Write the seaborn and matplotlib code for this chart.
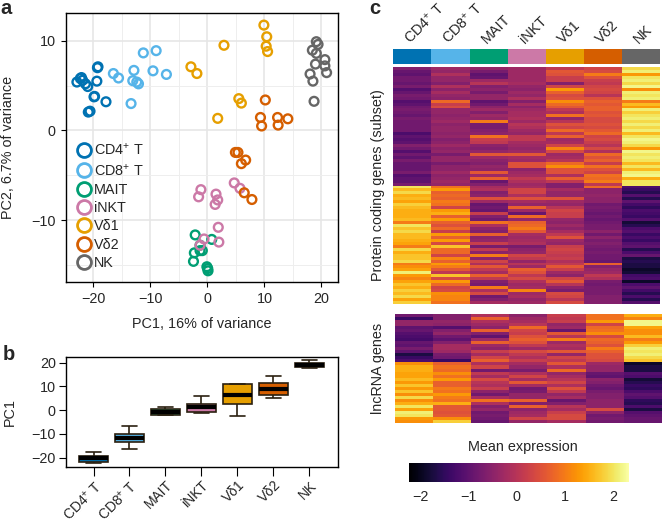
import numpy as np
import pandas as pd
import matplotlib
matplotlib.use("Agg")
import matplotlib.pyplot as plt
from matplotlib.colors import ListedColormap
from matplotlib.lines import Line2D
from matplotlib.ticker import MultipleLocator
import seaborn as sns

sns.set_theme(style="white")
plt.rcParams["font.family"] = ["Liberation Sans", "DejaVu Sans"]
plt.rcParams["mathtext.default"] = "regular"

W, H = 662, 525
groups = ["CD4$^{+}$ T", "CD8$^{+}$ T", "MAIT", "iNKT", "Vδ1", "Vδ2", "NK"]
colors = ["#0072B2", "#56B4E9", "#009E73", "#CC79A7", "#E69F00", "#D55E00", "#666666"]

# panel a
pc_x = {
    0: [-22.9, -22.1, -22.3, -21.4, -21.0, -19.4, -19.3, -19.2, -19.9, -19.8, -17.8, -20.9, -20.6, -21.9],
    1: [-16.5, -15.6, -12.9, -13.1, -12.4, -12.1, -13.4, -11.25, -9.0, -9.55, -7.2],
    2: [-2.15, 0.75, -2.3, -1.3, -0.9, -2.45, -0.1, 0.05, 0.1, -1.3],
    3: [-1.15, -1.55, 1.5, 1.8, 1.35, 1.9, 2.0, -0.6, -1.3, 4.7, 5.7],
    4: [9.9, 10.4, 10.3, 10.55, 2.9, -2.9, -1.85, 5.5, 5.95, 1.8],
    5: [10.15, 9.3, 9.5, 12.3, 12.4, 14.1, 4.9, 5.35, 5.95, 6.7, 6.45, 7.8],
    6: [19.1, 19.4, 18.4, 19.1, 20.6, 20.6, 20.9, 18.95, 18.0, 18.5, 18.7],
}
pc_y = {
    0: [5.4, 5.9, 5.8, 5.2, 4.9, 5.5, 7.0, 7.1, 3.75, 3.8, 3.2, 2.05, 2.15, 5.6],
    1: [6.35, 5.85, 6.7, 5.55, 5.4, 5.2, 3.0, 8.65, 8.9, 6.65, 6.25],
    2: [-11.65, -12.15, -13.65, -13.4, -13.4, -14.6, -15.2, -15.4, -15.65, -12.8],
    3: [-6.6, -7.4, -7.1, -7.75, -8.25, -10.8, -12.45, -12.1, -12.8, -5.85, -6.45],
    4: [11.75, 10.45, 9.4, 8.8, 9.5, 7.1, 6.35, 3.55, 3.05, 1.35],
    5: [3.4, 1.45, 0.5, 1.45, 0.6, 1.3, -2.45, -2.45, -3.7, -3.3, -6.95, -7.7],
    6: [9.9, 9.6, 8.95, 8.6, 7.9, 7.2, 6.45, 7.4, 6.3, 5.5, 3.25],
}

# panel b: whisker low, q1, median, q3, whisker high
box_stats = [
    [-22.5, -21.7, -20.4, -19.3, -17.5],
    [-16.3, -13.5, -11.7, -10.1, -6.9],
    [-2.2, -2.1, -0.9, 0.3, 1.3],
    [-1.1, -0.8, 1.4, 2.7, 6.0],
    [-2.5, 2.5, 6.2, 10.8, 11.0],
    [5.0, 6.2, 8.9, 11.4, 14.3],
    [17.9, 18.0, 19.0, 20.0, 21.0],
]

# panel c
protein_up = [
    [-.6,-.3,-.4,-.3,.1,.3,1.9], [-.9,-.4,-.7,-.3,.6,.4,2.1], [-1.0,-.1,-1.0,-.3,.5,1.0,1.3],
    [-.8,-.4,-.9,-.3,.2,.5,2.0], [-.8,-.4,-.3,-.3,.2,.2,2.1], [-.9,-.6,.0,-.2,-.6,.1,1.9],
    [-.7,-.1,-.6,-.4,.3,.3,2.2], [-1.1,-.5,-.5,-.5,1.3,.4,1.2], [-.9,-.2,-.7,-.3,.7,.3,2.1],
    [-.7,-.4,-.4,-.4,.4,.0,2.0], [-.8,-.5,-.4,-.1,.5,.5,2.1], [-1.1,.8,-1.0,-.6,1.2,.7,1.0],
    [-1.0,.2,-.8,-.2,.8,.6,1.6], [-.8,.4,-.5,-.5,.6,.7,1.3], [-.7,-.4,-.3,-.3,.1,.7,2.1],
    [-.8,-.4,-.6,-.2,-.1,.5,1.8], [-.9,-.5,-.3,-.2,.9,.6,2.0], [-.7,-.4,-.4,-.1,-.4,.4,2.1],
    [-.8,-.3,1.0,-.3,.0,.4,1.9], [-.8,-.5,-.7,.0,.5,.5,2.1], [-.8,-.4,-.7,-.1,.3,.4,1.9],
    [-.8,-.4,-.6,-.3,.8,.6,2.1], [-1.2,-.5,-.5,-.4,.1,.8,1.6], [-1.0,-.4,.9,.1,.7,.3,2.0],
    [-1.1,-.6,.2,.1,-.3,.4,2.2], [-1.0,-.5,.1,-.2,-.2,.2,2.1], [-.6,-.3,-.5,-.3,.3,.0,1.9],
    [-.8,-.5,-.6,-.4,1.1,.4,1.3], [-1.1,-.4,-.4,-.3,.4,-.1,2.2], [-.8,-.7,.6,.6,-.3,.8,2.0],
    [-1.0,-.4,-.3,-.2,-.2,.5,2.1], [-.7,-.4,-.5,-.3,.0,.7,2.0], [-.9,-.7,-.6,.5,.8,.2,1.6],
    [-.9,-.5,-.4,.5,1.2,.9,2.0], [-.9,-.5,-.5,-.5,.5,.5,1.6], [-.7,-.3,.6,-.3,.5,.3,2.1],
    [-1.1,-.5,-.3,-.2,-.1,.9,2.2], [-1.0,-.4,.7,.1,.7,.8,1.5], [-1.0,-.3,-.9,-.1,.1,1.0,2.0],
    [-.7,-.4,-.6,-.3,-.6,.1,2.0],
]
protein_down = [
    [2.0,.9,-.2,-.2,-.6,.8,-1.2], [1.6,1.3,-.1,.3,-.2,-.5,-1.4], [1.9,.7,-.6,.3,-.4,-.5,-1.6],
    [1.5,.8,-.5,-.1,-.4,-.4,-1.1], [1.6,.7,.5,.5,.5,-.5,-1.6], [1.4,1.0,-.3,-.2,-.3,-.5,-1.0],
    [1.8,.9,-.9,-.4,-.4,-.8,-1.3], [1.6,.3,-.8,.7,.0,-.7,-1.5], [1.5,1.3,-.9,-.3,.3,-.8,-1.2],
    [1.5,1.5,.2,-.9,.2,-.9,-1.3], [1.5,.7,-.6,.8,.2,-.8,-1.4], [1.6,1.3,-.8,-.4,-.4,-.9,-1.1],
    [1.0,.7,.9,.7,-.5,-.8,-1.8], [2.0,.5,-.1,.8,-.3,-.7,-1.6], [1.7,.8,-.5,1.0,-.5,-.7,-1.2],
    [1.9,.2,-.6,.6,-.2,-.5,-1.1], [1.6,1.3,.7,-.2,.1,-.8,-1.4], [1.6,.7,-.5,-.3,.5,-.5,-1.2],
    [1.5,1.3,-.4,-.2,-.3,-.7,-1.4], [1.4,.4,.2,-.1,-.4,-.6,-1.1], [1.0,1.7,-.7,-.7,.2,-.7,-1.0],
    [1.9,.8,.1,-.5,.3,-.8,-1.6], [1.5,.8,-.5,-.4,.2,-.7,-1.2], [1.7,.3,1.0,.3,.1,-.8,-.9],
    [1.7,1.1,-.5,.1,.2,-.8,-1.7], [1.9,.7,.3,-.4,-.1,-.9,-1.6], [1.0,1.3,-.1,.0,.1,.7,-1.7],
    [1.2,1.0,.6,-.3,.6,-.6,-1.7], [1.4,.6,.1,.7,.2,-.4,-1.9], [2.1,.1,-.2,.5,-.3,-.3,-1.8],
    [1.3,1.7,.7,.1,-.5,.1,-1.3], [1.1,.4,.1,.4,.3,-.1,-1.2], [1.4,1.3,-.6,-.1,.6,-.7,-1.9],
    [1.7,.8,-.7,-.3,.0,-.8,-1.2], [1.5,.3,1.0,-.2,-.5,-.7,-1.0], [1.8,.4,-.1,1.1,-.7,-.7,-1.3],
    [1.6,1.2,.4,-.3,.4,-.7,-1.6], [1.9,1.1,-.8,-.2,.3,-.6,-1.2], [1.4,1.1,-.6,-.4,.0,-.6,-1.6],
    [1.8,.9,-.2,-.3,.4,-.6,-1.1],
]
lnc_up = [
    [-.8,-.6,-.1,-.5,.2,.9,1.5], [-1.4,-.6,.7,-.3,.1,.9,1.1], [-.4,-.4,-.1,-.2,.2,1.3,2.2],
    [-.4,-.5,-.3,.0,-.4,.3,2.2], [-1.0,-1.1,-.5,.8,-.3,.8,1.4], [-.9,-.6,.7,.3,-.9,.9,1.2],
    [-1.1,-.4,-.6,.2,.6,1.2,1.2], [-1.2,-.8,-1.0,.5,.0,.4,1.6], [-1.3,-1.0,-.3,.7,1.0,.8,1.0],
    [-.9,-.6,.7,.5,-.3,.7,1.3], [-1.0,-.2,-.3,.1,-.1,.5,1.8], [-.7,-.2,-.5,-.3,-.2,1.0,2.1],
    [-1.0,-.3,.2,.4,.6,.7,2.0], [-1.7,-.7,-.2,.1,-.4,.5,2.1], [-1.4,-.8,.3,-.1,.3,.5,1.9],
    [-1.2,-1.4,.7,.2,.1,.4,1.7],
]
lnc_down = [
    [1.2,.7,-.1,-.2,.6,-.3,-1.9], [1.5,.9,.3,-.4,-.1,-.4,-1.7], [1.5,.8,-.8,-.7,.8,-.4,-1.7],
    [1.4,1.2,.1,-.1,-.4,-.9,-1.1], [1.4,.9,-.2,.3,-.2,-1.0,-1.2], [1.6,1.3,.4,-.2,.0,-.5,-1.8],
    [1.3,.7,.0,.6,.3,-.6,-1.6], [1.7,.7,-.1,-.2,-.1,-.8,-1.4], [1.3,1.0,.2,-.8,.5,-.9,-1.5],
    [1.7,.9,-.5,-.7,.1,-.7,-1.2], [1.2,1.3,-.8,-.4,-.4,-.6,-1.0], [1.9,1.0,-.2,-.4,-.2,-.6,-1.1],
    [1.2,.9,.9,.7,-.9,-.5,-1.5], [1.5,1.5,-.1,-.6,-.6,-.5,-1.6], [2.0,.6,-.6,.7,.0,-.5,-1.2],
    [1.4,.6,-.4,-.5,-.2,.4,-1.7], [2.1,.5,-.8,-.3,.2,-.5,-1.1], [2.0,.6,-.7,-.2,.4,-.8,-1.0],
    [1.3,1.2,-.8,.3,.4,-.7,-.9], [1.2,1.8,-.9,-.4,-.2,-.8,-.9],
]
cbar_ticks = [-2, -1, 0, 1, 2]


def add_ax(fig, left, top, right, bottom):
    return fig.add_axes([left / W, 1 - bottom / H, (right - left) / W, (bottom - top) / H])


def frame(ax):
    for s in ax.spines.values():
        s.set_visible(True)
        s.set_color("black")
        s.set_linewidth(1.0)


fig = plt.figure(figsize=(W / 100, H / 100), dpi=100)
FS = 10.4

# a: scatter
ax = add_ax(fig, 65.5, 13, 338, 282)
scat = pd.concat([pd.DataFrame({"x": pc_x[i], "y": pc_y[i], "g": i}) for i in range(7)])
sns.scatterplot(data=scat, x="x", y="y", hue="g", palette=colors, s=40, linewidth=1.7,
                legend=False, ax=ax, zorder=3)
coll = ax.collections[0]
fc = coll.get_facecolors()
coll.set_edgecolors(fc)
coll.set_facecolors("none")
ax.set_xlim(-24.9, 22.9)
ax.set_ylim(-16.9, 13.1)
ax.xaxis.set_major_locator(MultipleLocator(10))
ax.yaxis.set_major_locator(MultipleLocator(10))
ax.xaxis.set_minor_locator(MultipleLocator(5))
ax.yaxis.set_minor_locator(MultipleLocator(5))
ax.grid(which="major", color="#e6e6e6", lw=1.2)
ax.grid(which="minor", color="#eeeeee", lw=0.7)
ax.set_axisbelow(True)
ax.tick_params(axis="both", which="major", bottom=True, left=True, length=3.5, width=0.8,
               color="black", labelsize=FS, pad=3.5)
ax.tick_params(which="minor", length=0)
ax.set_xlabel("PC1, 16% of variance", fontsize=FS)
ax.xaxis.set_label_coords(0.5, -(324 - 282) / 269, transform=ax.transAxes)
ax.xaxis.label.set_va("center")
ax.set_ylabel("PC2, 6.7% of variance", fontsize=FS)
ax.yaxis.set_label_coords((8 - 65.5) / 272.5, 0.5, transform=ax.transAxes)
ax.yaxis.label.set_va("center")
frame(ax)
handles = [Line2D([], [], ls="", marker="o", ms=10, mfc="none", mec=c, mew=2.0) for c in colors]
ax.legend(handles, groups, loc="lower left", bbox_to_anchor=(0.015, 0.045), frameon=False,
          fontsize=FS, labelspacing=0.3, handletextpad=-0.3, borderpad=0, borderaxespad=0)

# b: boxes
ax = add_ax(fig, 65.5, 357, 338, 467)
long = pd.DataFrame({"g": np.repeat(np.arange(7), 5), "v": np.ravel(box_stats)})
sns.boxplot(data=long, x="g", y="v", hue="g", palette=colors, saturation=1, width=0.82,
            legend=False, ax=ax, whis=(0, 100), linewidth=1.2, linecolor="#2b2010",
            medianprops={"color": "black", "linewidth": 3.0, "solid_capstyle": "butt"},
            capwidths=0.42)
ax.set_xlim(-0.78, 6.8)
ax.set_ylim(-24, 22.4)
ax.yaxis.set_major_locator(MultipleLocator(10))
ax.set_xticks(range(7))
ax.set_xticklabels(groups, rotation=45, ha="right", rotation_mode="anchor")
ax.tick_params(axis="x", bottom=True, length=6.5, width=0.8, color="black", labelsize=10, pad=1.5)
ax.tick_params(axis="y", left=True, length=5, width=0.8, color="black", labelsize=FS, pad=2)
ax.set_xlabel("")
ax.set_ylabel("PC1", fontsize=FS)
ax.yaxis.set_label_coords((10 - 65.5) / 272.5, 0.5, transform=ax.transAxes)
ax.yaxis.label.set_va("center")
frame(ax)

# c: heatmaps
cmap = "inferno"
vmin, vmax = -2.23, 2.33
ax_strip = add_ax(fig, 393.3, 49, 660, 64)
sns.heatmap(np.arange(7).reshape(1, 7), cmap=ListedColormap(colors), cbar=False, ax=ax_strip,
            xticklabels=groups, yticklabels=False)
ax_strip.xaxis.tick_top()
ax_strip.tick_params(axis="x", length=0, pad=2, labelsize=FS)
plt.setp(ax_strip.get_xticklabels(), rotation=45, ha="left", rotation_mode="anchor")

ax_top = add_ax(fig, 393.3, 67, 660, 304)
cax = add_ax(fig, 409, 463, 629, 482)
sns.heatmap(np.array(protein_up + protein_down), cmap=cmap, vmin=vmin, vmax=vmax, ax=ax_top,
            xticklabels=False, yticklabels=False, cbar_ax=cax,
            cbar_kws={"orientation": "horizontal", "ticks": cbar_ticks})
ax_top.set_ylabel("Protein coding genes (subset)", fontsize=FS)
ax_top.yaxis.set_label_coords((378 - 393.3) / 266.7, 0.5, transform=ax_top.transAxes)
ax_top.yaxis.label.set_va("center")

ax_low = add_ax(fig, 394.7, 314, 662, 423)
sns.heatmap(np.array(lnc_up + lnc_down), cmap=cmap, vmin=vmin, vmax=vmax, cbar=False, ax=ax_low,
            xticklabels=False, yticklabels=False)
ax_low.set_ylabel("lncRNA genes", fontsize=FS)
ax_low.yaxis.set_label_coords((378 - 394.7) / 267.3, 0.5, transform=ax_low.transAxes)
ax_low.yaxis.label.set_va("center")

cax.tick_params(length=0, labelsize=FS, pad=6)
ax_top.collections[0].colorbar.outline.set_visible(False)
fig.text(523 / W, 1 - 447 / H, "Mean expression", ha="center", va="center", fontsize=FS)

for txt, x, y in [("a", 6, 8), ("b", 9, 355), ("c", 375, 8)]:
    fig.text(x / W, 1 - y / H, txt, fontsize=14.5, fontweight="bold", ha="center", va="center")

fig.savefig("out.png", dpi=100)
